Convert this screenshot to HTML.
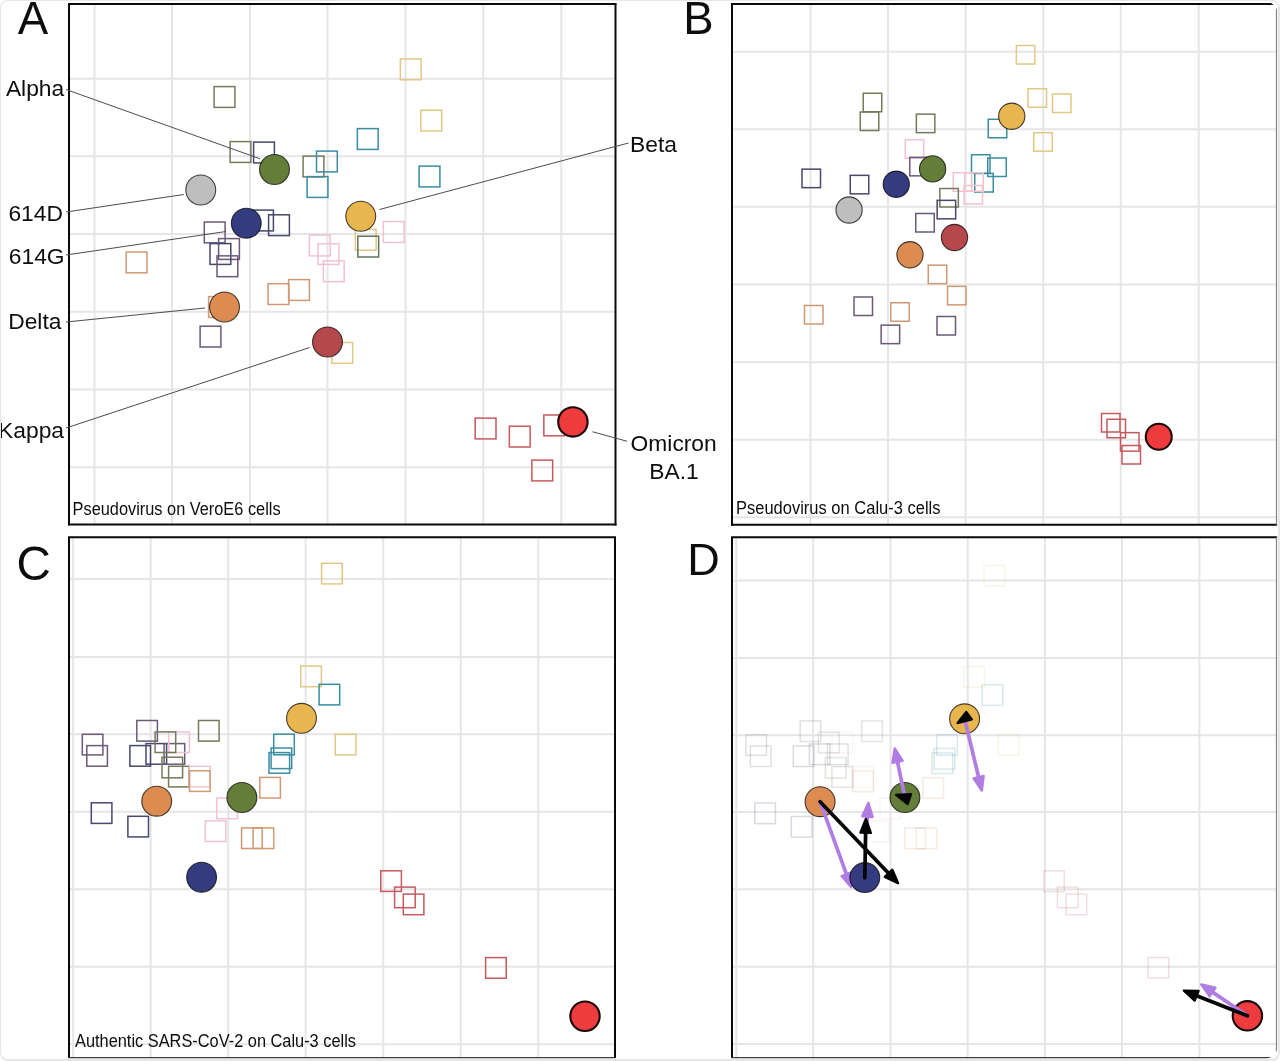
<!DOCTYPE html>
<html><head><meta charset="utf-8"><title>Antigenic maps</title>
<style>
html,body{margin:0;padding:0;background:#fff;}
body{width:1280px;height:1061px;overflow:hidden;font-family:"Liberation Sans",sans-serif;}
#fig{position:absolute;left:0;top:0;width:1280px;height:1061px;box-sizing:border-box;border:solid #e6e6e6;border-width:1px 2px 2px 1px;border-radius:8px;overflow:hidden;background:#fff;}
svg{position:absolute;left:-1px;top:-1px;}
</style></head><body>
<div id="fig">
<svg width="1280" height="1061" viewBox="0 0 1280 1061">
<defs><filter id="gs" x="0" y="0" width="1280" height="1061" filterUnits="userSpaceOnUse" color-interpolation-filters="sRGB"><feColorMatrix type="saturate" values="0"/></filter><clipPath id="cp"><rect x="1" y="1" width="1277.4" height="1058.2" rx="15" ry="15"/></clipPath></defs>
<g clip-path="url(#cp)">
<g stroke="#e6e6e8" stroke-width="2">
<line x1="94.5" y1="4" x2="94.5" y2="524.5"/>
<line x1="172" y1="4" x2="172" y2="524.5"/>
<line x1="250" y1="4" x2="250" y2="524.5"/>
<line x1="327.5" y1="4" x2="327.5" y2="524.5"/>
<line x1="405.5" y1="4" x2="405.5" y2="524.5"/>
<line x1="483.25" y1="4" x2="483.25" y2="524.5"/>
<line x1="561.25" y1="4" x2="561.25" y2="524.5"/>
<line x1="69" y1="78.75" x2="615.5" y2="78.75"/>
<line x1="69" y1="156.25" x2="615.5" y2="156.25"/>
<line x1="69" y1="234" x2="615.5" y2="234"/>
<line x1="69" y1="311.75" x2="615.5" y2="311.75"/>
<line x1="69" y1="389.4" x2="615.5" y2="389.4"/>
<line x1="69" y1="467.25" x2="615.5" y2="467.25"/>
</g>
<line x1="68" y1="4" x2="616.5" y2="4" stroke="#0a0a0a" stroke-width="2"/>
<line x1="69" y1="4" x2="69" y2="525.5" stroke="#0a0a0a" stroke-width="2"/>
<line x1="68" y1="524.5" x2="616.5" y2="524.5" stroke="#0a0a0a" stroke-width="2"/>
<line x1="615.5" y1="4" x2="615.5" y2="525.5" stroke="#0a0a0a" stroke-width="2"/>
<rect x="214.10" y="86.60" width="20.8" height="20.8" fill="none" stroke="#767a5c" stroke-width="1.5"/>
<rect x="230.10" y="141.60" width="20.8" height="20.8" fill="none" stroke="#767a5c" stroke-width="1.5"/>
<rect x="253.60" y="142.10" width="20.8" height="20.8" fill="none" stroke="#46486d" stroke-width="1.5"/>
<rect x="400.35" y="59.00" width="20.8" height="20.8" fill="none" stroke="#e2c886" stroke-width="1.5"/>
<rect x="420.85" y="110.20" width="20.8" height="20.8" fill="none" stroke="#e2c886" stroke-width="1.5"/>
<rect x="357.35" y="128.60" width="20.8" height="20.8" fill="none" stroke="#3a8da2" stroke-width="1.5"/>
<rect x="303.10" y="156.10" width="20.8" height="20.8" fill="none" stroke="#767a5c" stroke-width="1.5"/>
<rect x="316.50" y="151.10" width="20.8" height="20.8" fill="none" stroke="#3a8da2" stroke-width="1.5"/>
<rect x="307.10" y="176.60" width="20.8" height="20.8" fill="none" stroke="#3a8da2" stroke-width="1.5"/>
<rect x="419.10" y="166.10" width="20.8" height="20.8" fill="none" stroke="#3a8da2" stroke-width="1.5"/>
<rect x="383.35" y="221.60" width="20.8" height="20.8" fill="none" stroke="#f2c3cf" stroke-width="1.5"/>
<rect x="355.35" y="229.35" width="20.8" height="20.8" fill="none" stroke="#e2c886" stroke-width="1.5"/>
<rect x="357.85" y="236.20" width="20.8" height="20.8" fill="none" stroke="#5f7658" stroke-width="1.5"/>
<rect x="309.35" y="235.10" width="20.8" height="20.8" fill="none" stroke="#f2c3cf" stroke-width="1.5"/>
<rect x="318.10" y="243.70" width="20.8" height="20.8" fill="none" stroke="#f2c3cf" stroke-width="1.5"/>
<rect x="323.35" y="260.85" width="20.8" height="20.8" fill="none" stroke="#f2c3cf" stroke-width="1.5"/>
<rect x="252.60" y="210.10" width="20.8" height="20.8" fill="none" stroke="#46486d" stroke-width="1.5"/>
<rect x="268.60" y="214.80" width="20.8" height="20.8" fill="none" stroke="#46486d" stroke-width="1.5"/>
<rect x="204.30" y="222.00" width="20.8" height="20.8" fill="none" stroke="#6c597a" stroke-width="1.5"/>
<rect x="218.60" y="238.60" width="20.8" height="20.8" fill="none" stroke="#6c597a" stroke-width="1.5"/>
<rect x="210.00" y="243.60" width="20.8" height="20.8" fill="none" stroke="#46486d" stroke-width="1.5"/>
<rect x="217.00" y="255.85" width="20.8" height="20.8" fill="none" stroke="#6c597a" stroke-width="1.5"/>
<rect x="126.20" y="252.00" width="20.8" height="20.8" fill="none" stroke="#d19874" stroke-width="1.5"/>
<rect x="208.60" y="296.60" width="20.8" height="20.8" fill="none" stroke="#d19874" stroke-width="1.5"/>
<rect x="268.10" y="283.70" width="20.8" height="20.8" fill="none" stroke="#d19874" stroke-width="1.5"/>
<rect x="288.60" y="279.60" width="20.8" height="20.8" fill="none" stroke="#d19874" stroke-width="1.5"/>
<rect x="200.10" y="326.20" width="20.8" height="20.8" fill="none" stroke="#6c597a" stroke-width="1.5"/>
<rect x="331.85" y="342.50" width="20.8" height="20.8" fill="none" stroke="#e2c886" stroke-width="1.5"/>
<rect x="475.20" y="418.10" width="20.8" height="20.8" fill="none" stroke="#c6595e" stroke-width="1.5"/>
<rect x="509.35" y="426.20" width="20.8" height="20.8" fill="none" stroke="#c6595e" stroke-width="1.5"/>
<rect x="543.85" y="415.00" width="20.8" height="20.8" fill="none" stroke="#c6595e" stroke-width="1.5"/>
<rect x="531.85" y="460.10" width="20.8" height="20.8" fill="none" stroke="#c6595e" stroke-width="1.5"/>
<line x1="66" y1="89.5" x2="260" y2="158.75" stroke="#4d4d4d" stroke-width="1"/>
<line x1="66" y1="212" x2="183.75" y2="194.5" stroke="#4d4d4d" stroke-width="1"/>
<line x1="66" y1="255" x2="226" y2="231.5" stroke="#4d4d4d" stroke-width="1"/>
<line x1="66" y1="322" x2="205" y2="308" stroke="#4d4d4d" stroke-width="1"/>
<line x1="66" y1="428" x2="309.5" y2="347.5" stroke="#4d4d4d" stroke-width="1"/>
<line x1="379.5" y1="209.5" x2="628.5" y2="143" stroke="#4d4d4d" stroke-width="1"/>
<line x1="592.5" y1="431.75" x2="627" y2="441.25" stroke="#4d4d4d" stroke-width="1"/>
<circle cx="274.5" cy="169.5" r="14.95" fill="#647d38" stroke="#000" stroke-width="1.1" stroke-opacity="0.72"/>
<circle cx="200.75" cy="190" r="14.95" fill="#bebebe" stroke="#000" stroke-width="1.1" stroke-opacity="0.72"/>
<circle cx="246.25" cy="223.25" r="14.95" fill="#343b7e" stroke="#000" stroke-width="1.1" stroke-opacity="0.72"/>
<circle cx="360.75" cy="216.25" r="14.95" fill="#e8b54e" stroke="#000" stroke-width="1.1" stroke-opacity="0.72"/>
<circle cx="224.5" cy="307" r="14.95" fill="#dc8b51" stroke="#000" stroke-width="1.1" stroke-opacity="0.72"/>
<circle cx="327.5" cy="342" r="14.95" fill="#b4484b" stroke="#000" stroke-width="1.1" stroke-opacity="0.72"/>
<circle cx="572.9" cy="421.9" r="14.7" fill="#ee3b3d" stroke="#1c0608" stroke-width="2.1" stroke-opacity="1"/>
<g stroke="#e6e6e8" stroke-width="2">
<line x1="810.5" y1="4" x2="810.5" y2="524.7"/>
<line x1="888" y1="4" x2="888" y2="524.7"/>
<line x1="965.6" y1="4" x2="965.6" y2="524.7"/>
<line x1="1043.25" y1="4" x2="1043.25" y2="524.7"/>
<line x1="1120.75" y1="4" x2="1120.75" y2="524.7"/>
<line x1="1198.75" y1="4" x2="1198.75" y2="524.7"/>
<line x1="732" y1="51.75" x2="1276.5" y2="51.75"/>
<line x1="732" y1="129.25" x2="1276.5" y2="129.25"/>
<line x1="732" y1="206.75" x2="1276.5" y2="206.75"/>
<line x1="732" y1="284.5" x2="1276.5" y2="284.5"/>
<line x1="732" y1="362.25" x2="1276.5" y2="362.25"/>
<line x1="732" y1="439.75" x2="1276.5" y2="439.75"/>
<line x1="732" y1="517.25" x2="1276.5" y2="517.25"/>
</g>
<line x1="731" y1="4" x2="1277.1" y2="4" stroke="#0a0a0a" stroke-width="2"/>
<line x1="732" y1="4" x2="732" y2="525.7" stroke="#0a0a0a" stroke-width="2"/>
<line x1="731" y1="524.7" x2="1277.1" y2="524.7" stroke="#0a0a0a" stroke-width="2"/>
<line x1="1276.5" y1="4" x2="1276.5" y2="524.7" stroke="#858585" stroke-width="1.25"/>
<rect x="863.25" y="93.25" width="18.5" height="18.5" fill="none" stroke="#767a5c" stroke-width="1.5"/>
<rect x="860.25" y="112.00" width="18.5" height="18.5" fill="none" stroke="#767a5c" stroke-width="1.5"/>
<rect x="916.35" y="114.15" width="18.5" height="18.5" fill="none" stroke="#767a5c" stroke-width="1.5"/>
<rect x="905.25" y="139.75" width="18.5" height="18.5" fill="none" stroke="#f2c3cf" stroke-width="1.5"/>
<rect x="909.75" y="157.35" width="18.5" height="18.5" fill="none" stroke="#6c597a" stroke-width="1.5"/>
<rect x="802.00" y="169.15" width="18.5" height="18.5" fill="none" stroke="#46486d" stroke-width="1.5"/>
<rect x="850.25" y="175.35" width="18.5" height="18.5" fill="none" stroke="#46486d" stroke-width="1.5"/>
<rect x="1016.35" y="45.50" width="18.5" height="18.5" fill="none" stroke="#e2c886" stroke-width="1.5"/>
<rect x="1028.00" y="88.75" width="18.5" height="18.5" fill="none" stroke="#e2c886" stroke-width="1.5"/>
<rect x="1052.50" y="94.00" width="18.5" height="18.5" fill="none" stroke="#e2c886" stroke-width="1.5"/>
<rect x="1033.75" y="132.65" width="18.5" height="18.5" fill="none" stroke="#e2c886" stroke-width="1.5"/>
<rect x="988.25" y="119.25" width="18.5" height="18.5" fill="none" stroke="#3a8da2" stroke-width="1.5"/>
<rect x="971.50" y="154.75" width="18.5" height="18.5" fill="none" stroke="#3a8da2" stroke-width="1.5"/>
<rect x="987.75" y="158.00" width="18.5" height="18.5" fill="none" stroke="#3a8da2" stroke-width="1.5"/>
<rect x="974.75" y="173.50" width="18.5" height="18.5" fill="none" stroke="#3a8da2" stroke-width="1.5"/>
<rect x="953.25" y="172.75" width="18.5" height="18.5" fill="none" stroke="#f2c3cf" stroke-width="1.5"/>
<rect x="964.75" y="172.75" width="18.5" height="18.5" fill="none" stroke="#f2c3cf" stroke-width="1.5"/>
<rect x="964.00" y="185.50" width="18.5" height="18.5" fill="none" stroke="#f2c3cf" stroke-width="1.5"/>
<rect x="939.85" y="188.50" width="18.5" height="18.5" fill="none" stroke="#767a5c" stroke-width="1.5"/>
<rect x="937.15" y="200.35" width="18.5" height="18.5" fill="none" stroke="#46486d" stroke-width="1.5"/>
<rect x="915.75" y="213.50" width="18.5" height="18.5" fill="none" stroke="#6c597a" stroke-width="1.5"/>
<rect x="928.25" y="265.15" width="18.5" height="18.5" fill="none" stroke="#d19874" stroke-width="1.5"/>
<rect x="947.50" y="286.35" width="18.5" height="18.5" fill="none" stroke="#d19874" stroke-width="1.5"/>
<rect x="890.75" y="302.75" width="18.5" height="18.5" fill="none" stroke="#d19874" stroke-width="1.5"/>
<rect x="804.50" y="305.50" width="18.5" height="18.5" fill="none" stroke="#d19874" stroke-width="1.5"/>
<rect x="854.00" y="297.00" width="18.5" height="18.5" fill="none" stroke="#6c597a" stroke-width="1.5"/>
<rect x="881.15" y="325.15" width="18.5" height="18.5" fill="none" stroke="#6c597a" stroke-width="1.5"/>
<rect x="937.00" y="316.50" width="18.5" height="18.5" fill="none" stroke="#6c597a" stroke-width="1.5"/>
<rect x="1101.50" y="413.50" width="18.5" height="18.5" fill="none" stroke="#c6595e" stroke-width="1.5"/>
<rect x="1107.00" y="419.25" width="18.5" height="18.5" fill="none" stroke="#c6595e" stroke-width="1.5"/>
<rect x="1120.50" y="432.65" width="18.5" height="18.5" fill="none" stroke="#c6595e" stroke-width="1.5"/>
<rect x="1122.00" y="445.50" width="18.5" height="18.5" fill="none" stroke="#c6595e" stroke-width="1.5"/>
<circle cx="849.1" cy="210" r="13.15" fill="#bebebe" stroke="#000" stroke-width="1.1" stroke-opacity="0.72"/>
<circle cx="896.25" cy="184.25" r="13.15" fill="#343b7e" stroke="#000" stroke-width="1.1" stroke-opacity="0.72"/>
<circle cx="932.6" cy="168.9" r="13.15" fill="#647d38" stroke="#000" stroke-width="1.1" stroke-opacity="0.72"/>
<circle cx="1011.75" cy="116.25" r="13.15" fill="#e8b54e" stroke="#000" stroke-width="1.1" stroke-opacity="0.72"/>
<circle cx="910" cy="254.75" r="13.15" fill="#dc8b51" stroke="#000" stroke-width="1.1" stroke-opacity="0.72"/>
<circle cx="954.5" cy="237.5" r="13.15" fill="#b4484b" stroke="#000" stroke-width="1.1" stroke-opacity="0.72"/>
<circle cx="1158.75" cy="436.75" r="13" fill="#ee3b3d" stroke="#1c0608" stroke-width="2" stroke-opacity="1"/>
<g stroke="#e6e6e8" stroke-width="2">
<line x1="73.1" y1="537.2" x2="73.1" y2="1057.5"/>
<line x1="150.7" y1="537.2" x2="150.7" y2="1057.5"/>
<line x1="228.2" y1="537.2" x2="228.2" y2="1057.5"/>
<line x1="305.6" y1="537.2" x2="305.6" y2="1057.5"/>
<line x1="383.25" y1="537.2" x2="383.25" y2="1057.5"/>
<line x1="460.75" y1="537.2" x2="460.75" y2="1057.5"/>
<line x1="538.25" y1="537.2" x2="538.25" y2="1057.5"/>
<line x1="69" y1="579.1" x2="615" y2="579.1"/>
<line x1="69" y1="656.9" x2="615" y2="656.9"/>
<line x1="69" y1="734.3" x2="615" y2="734.3"/>
<line x1="69" y1="811.8" x2="615" y2="811.8"/>
<line x1="69" y1="889.2" x2="615" y2="889.2"/>
<line x1="69" y1="966.75" x2="615" y2="966.75"/>
<line x1="69" y1="1044.25" x2="615" y2="1044.25"/>
</g>
<line x1="68" y1="537.2" x2="616" y2="537.2" stroke="#0a0a0a" stroke-width="2"/>
<line x1="69" y1="537.2" x2="69" y2="1058.1" stroke="#0a0a0a" stroke-width="2"/>
<line x1="68" y1="1057.5" x2="615.6" y2="1057.5" stroke="#3c3c3c" stroke-width="1.25"/>
<line x1="615" y1="537.2" x2="615" y2="1058.1" stroke="#0a0a0a" stroke-width="2"/>
<rect x="321.60" y="563.30" width="20.6" height="20.6" fill="none" stroke="#e2c886" stroke-width="1.5"/>
<rect x="300.80" y="666.10" width="20.6" height="20.6" fill="none" stroke="#e2c886" stroke-width="1.5"/>
<rect x="319.10" y="684.30" width="20.6" height="20.6" fill="none" stroke="#3a8da2" stroke-width="1.5"/>
<rect x="335.30" y="734.30" width="20.6" height="20.6" fill="none" stroke="#e2c886" stroke-width="1.5"/>
<rect x="273.70" y="734.20" width="20.6" height="20.6" fill="none" stroke="#3a8da2" stroke-width="1.5"/>
<rect x="271.10" y="748.00" width="20.6" height="20.6" fill="none" stroke="#3a8da2" stroke-width="1.5"/>
<rect x="269.00" y="752.60" width="20.6" height="20.6" fill="none" stroke="#3a8da2" stroke-width="1.5"/>
<rect x="198.50" y="720.50" width="20.6" height="20.6" fill="none" stroke="#767a5c" stroke-width="1.5"/>
<rect x="82.30" y="734.30" width="20.6" height="20.6" fill="none" stroke="#6c597a" stroke-width="1.5"/>
<rect x="86.80" y="745.60" width="20.6" height="20.6" fill="none" stroke="#6c597a" stroke-width="1.5"/>
<rect x="136.80" y="720.50" width="20.6" height="20.6" fill="none" stroke="#6c597a" stroke-width="1.5"/>
<rect x="129.90" y="745.60" width="20.6" height="20.6" fill="none" stroke="#46486d" stroke-width="1.5"/>
<rect x="146.00" y="743.60" width="20.6" height="20.6" fill="none" stroke="#46486d" stroke-width="1.5"/>
<rect x="164.10" y="743.60" width="20.6" height="20.6" fill="none" stroke="#6c597a" stroke-width="1.5"/>
<rect x="168.80" y="731.90" width="20.6" height="20.6" fill="none" stroke="#f2c3cf" stroke-width="1.5"/>
<rect x="155.10" y="731.90" width="20.6" height="20.6" fill="none" stroke="#767a5c" stroke-width="1.5"/>
<rect x="162.00" y="757.20" width="20.6" height="20.6" fill="none" stroke="#767a5c" stroke-width="1.5"/>
<rect x="168.60" y="766.30" width="20.6" height="20.6" fill="none" stroke="#767a5c" stroke-width="1.5"/>
<rect x="189.50" y="766.30" width="20.6" height="20.6" fill="none" stroke="#f2c3cf" stroke-width="1.5"/>
<rect x="189.50" y="770.80" width="20.6" height="20.6" fill="none" stroke="#d19874" stroke-width="1.5"/>
<rect x="259.80" y="777.40" width="20.6" height="20.6" fill="none" stroke="#d19874" stroke-width="1.5"/>
<rect x="91.30" y="802.80" width="20.6" height="20.6" fill="none" stroke="#46486d" stroke-width="1.5"/>
<rect x="127.90" y="816.30" width="20.6" height="20.6" fill="none" stroke="#46486d" stroke-width="1.5"/>
<rect x="216.80" y="798.10" width="20.6" height="20.6" fill="none" stroke="#f2c3cf" stroke-width="1.5"/>
<rect x="205.30" y="820.90" width="20.6" height="20.6" fill="none" stroke="#f2c3cf" stroke-width="1.5"/>
<rect x="241.60" y="827.90" width="20.6" height="20.6" fill="none" stroke="#d19874" stroke-width="1.5"/>
<rect x="253.10" y="827.90" width="20.6" height="20.6" fill="none" stroke="#d19874" stroke-width="1.5"/>
<rect x="380.80" y="870.80" width="20.6" height="20.6" fill="none" stroke="#c6595e" stroke-width="1.5"/>
<rect x="394.60" y="887.10" width="20.6" height="20.6" fill="none" stroke="#c6595e" stroke-width="1.5"/>
<rect x="403.30" y="894.10" width="20.6" height="20.6" fill="none" stroke="#c6595e" stroke-width="1.5"/>
<rect x="485.60" y="957.60" width="20.6" height="20.6" fill="none" stroke="#c6595e" stroke-width="1.5"/>
<circle cx="301.5" cy="718.3" r="14.95" fill="#e8b54e" stroke="#000" stroke-width="1.1" stroke-opacity="0.72"/>
<circle cx="156.7" cy="801.2" r="14.95" fill="#dc8b51" stroke="#000" stroke-width="1.1" stroke-opacity="0.72"/>
<circle cx="241.9" cy="797.5" r="14.95" fill="#647d38" stroke="#000" stroke-width="1.1" stroke-opacity="0.72"/>
<circle cx="201.6" cy="877.2" r="14.95" fill="#343b7e" stroke="#000" stroke-width="1.1" stroke-opacity="0.72"/>
<circle cx="585" cy="1016.25" r="14.7" fill="#ee3b3d" stroke="#1c0608" stroke-width="2.1" stroke-opacity="1"/>
<g stroke="#e6e6e8" stroke-width="2">
<line x1="736.25" y1="537.2" x2="736.25" y2="1057.5"/>
<line x1="813.2" y1="537.2" x2="813.2" y2="1057.5"/>
<line x1="890.6" y1="537.2" x2="890.6" y2="1057.5"/>
<line x1="967.7" y1="537.2" x2="967.7" y2="1057.5"/>
<line x1="1045" y1="537.2" x2="1045" y2="1057.5"/>
<line x1="1122" y1="537.2" x2="1122" y2="1057.5"/>
<line x1="1199.4" y1="537.2" x2="1199.4" y2="1057.5"/>
<line x1="732" y1="580.5" x2="1276.5" y2="580.5"/>
<line x1="732" y1="658" x2="1276.5" y2="658"/>
<line x1="732" y1="735.2" x2="1276.5" y2="735.2"/>
<line x1="732" y1="811.9" x2="1276.5" y2="811.9"/>
<line x1="732" y1="889.2" x2="1276.5" y2="889.2"/>
<line x1="732" y1="966.8" x2="1276.5" y2="966.8"/>
<line x1="732" y1="1044" x2="1276.5" y2="1044"/>
</g>
<line x1="731" y1="537.2" x2="1277.1" y2="537.2" stroke="#0a0a0a" stroke-width="2"/>
<line x1="732" y1="537.2" x2="732" y2="1058.1" stroke="#0a0a0a" stroke-width="2"/>
<line x1="731" y1="1057.5" x2="1277.1" y2="1057.5" stroke="#3c3c3c" stroke-width="1.25"/>
<line x1="1276.5" y1="537.2" x2="1276.5" y2="1057.5" stroke="#858585" stroke-width="1.25"/>
<rect x="984.00" y="565.38" width="20.6" height="20.6" fill="none" stroke="#e2c886" stroke-width="1.5" opacity="0.2"/>
<rect x="963.84" y="666.64" width="20.6" height="20.6" fill="none" stroke="#e2c886" stroke-width="1.5" opacity="0.2"/>
<rect x="982.10" y="684.80" width="20.6" height="20.6" fill="none" stroke="#3a8da2" stroke-width="1.5" opacity="0.2"/>
<rect x="998.27" y="734.69" width="20.6" height="20.6" fill="none" stroke="#e2c886" stroke-width="1.5" opacity="0.2"/>
<rect x="936.81" y="734.59" width="20.6" height="20.6" fill="none" stroke="#3a8da2" stroke-width="1.5" opacity="0.2"/>
<rect x="934.21" y="748.36" width="20.6" height="20.6" fill="none" stroke="#3a8da2" stroke-width="1.5" opacity="0.2"/>
<rect x="932.12" y="752.95" width="20.6" height="20.6" fill="none" stroke="#3a8da2" stroke-width="1.5" opacity="0.2"/>
<rect x="861.78" y="720.92" width="20.6" height="20.6" fill="none" stroke="#767a5c" stroke-width="1.5" opacity="0.2"/>
<rect x="745.85" y="734.69" width="20.6" height="20.6" fill="none" stroke="#6c597a" stroke-width="1.5" opacity="0.2"/>
<rect x="750.34" y="745.96" width="20.6" height="20.6" fill="none" stroke="#6c597a" stroke-width="1.5" opacity="0.2"/>
<rect x="800.22" y="720.92" width="20.6" height="20.6" fill="none" stroke="#6c597a" stroke-width="1.5" opacity="0.2"/>
<rect x="793.34" y="745.96" width="20.6" height="20.6" fill="none" stroke="#46486d" stroke-width="1.5" opacity="0.2"/>
<rect x="809.40" y="743.97" width="20.6" height="20.6" fill="none" stroke="#46486d" stroke-width="1.5" opacity="0.2"/>
<rect x="827.46" y="743.97" width="20.6" height="20.6" fill="none" stroke="#6c597a" stroke-width="1.5" opacity="0.2"/>
<rect x="832.15" y="732.29" width="20.6" height="20.6" fill="none" stroke="#f2c3cf" stroke-width="1.5" opacity="0.2"/>
<rect x="818.48" y="732.29" width="20.6" height="20.6" fill="none" stroke="#767a5c" stroke-width="1.5" opacity="0.2"/>
<rect x="825.36" y="757.53" width="20.6" height="20.6" fill="none" stroke="#767a5c" stroke-width="1.5" opacity="0.2"/>
<rect x="831.95" y="766.61" width="20.6" height="20.6" fill="none" stroke="#767a5c" stroke-width="1.5" opacity="0.2"/>
<rect x="852.80" y="766.61" width="20.6" height="20.6" fill="none" stroke="#f2c3cf" stroke-width="1.5" opacity="0.2"/>
<rect x="852.80" y="771.10" width="20.6" height="20.6" fill="none" stroke="#d19874" stroke-width="1.5" opacity="0.2"/>
<rect x="922.94" y="777.69" width="20.6" height="20.6" fill="none" stroke="#d19874" stroke-width="1.5" opacity="0.2"/>
<rect x="754.83" y="803.03" width="20.6" height="20.6" fill="none" stroke="#46486d" stroke-width="1.5" opacity="0.2"/>
<rect x="791.34" y="816.50" width="20.6" height="20.6" fill="none" stroke="#46486d" stroke-width="1.5" opacity="0.2"/>
<rect x="880.04" y="798.34" width="20.6" height="20.6" fill="none" stroke="#f2c3cf" stroke-width="1.5" opacity="0.2"/>
<rect x="868.56" y="821.09" width="20.6" height="20.6" fill="none" stroke="#f2c3cf" stroke-width="1.5" opacity="0.2"/>
<rect x="904.78" y="828.07" width="20.6" height="20.6" fill="none" stroke="#d19874" stroke-width="1.5" opacity="0.2"/>
<rect x="916.25" y="828.07" width="20.6" height="20.6" fill="none" stroke="#d19874" stroke-width="1.5" opacity="0.2"/>
<rect x="1043.66" y="870.87" width="20.6" height="20.6" fill="none" stroke="#c6595e" stroke-width="1.5" opacity="0.2"/>
<rect x="1057.43" y="887.14" width="20.6" height="20.6" fill="none" stroke="#c6595e" stroke-width="1.5" opacity="0.2"/>
<rect x="1066.11" y="894.12" width="20.6" height="20.6" fill="none" stroke="#c6595e" stroke-width="1.5" opacity="0.2"/>
<rect x="1148.22" y="957.47" width="20.6" height="20.6" fill="none" stroke="#c6595e" stroke-width="1.5" opacity="0.2"/>
<circle cx="964.6" cy="718.8" r="14.95" fill="#e8b54e" stroke="#000" stroke-width="1.1" stroke-opacity="0.72"/>
<circle cx="820.1" cy="801.7" r="14.95" fill="#dc8b51" stroke="#000" stroke-width="1.1" stroke-opacity="0.72"/>
<circle cx="904.9" cy="797.5" r="14.95" fill="#647d38" stroke="#000" stroke-width="1.1" stroke-opacity="0.72"/>
<circle cx="1247.4" cy="1015.8" r="14.7" fill="#ee3b3d" stroke="#1c0608" stroke-width="2.1" stroke-opacity="1"/>
<line x1="964.60" y1="718.80" x2="978.93" y2="778.48" stroke="#b07de2" stroke-width="3.7" stroke-linecap="round"/>
<polygon points="981.82,790.53 973.55,778.40 983.68,775.97" fill="#b07de2" stroke="#b07de2" stroke-width="2.4" stroke-linejoin="round"/>
<line x1="904.90" y1="797.50" x2="897.25" y2="760.52" stroke="#b07de2" stroke-width="3.7" stroke-linecap="round"/>
<polygon points="894.74,748.38 902.62,760.76 892.42,762.87" fill="#b07de2" stroke="#b07de2" stroke-width="2.4" stroke-linejoin="round"/>
<line x1="820.10" y1="801.70" x2="846.95" y2="875.52" stroke="#b07de2" stroke-width="3.7" stroke-linecap="round"/>
<polygon points="851.19,887.17 841.60,876.05 851.39,872.49" fill="#b07de2" stroke="#b07de2" stroke-width="2.4" stroke-linejoin="round"/>
<line x1="866.30" y1="832.00" x2="867.52" y2="815.26" stroke="#b07de2" stroke-width="3.7" stroke-linecap="round"/>
<polygon points="868.41,802.90 872.61,816.96 862.23,816.21" fill="#b07de2" stroke="#b07de2" stroke-width="2.4" stroke-linejoin="round"/>
<line x1="1247.40" y1="1015.80" x2="1211.45" y2="991.35" stroke="#b07de2" stroke-width="3.7" stroke-linecap="round"/>
<polygon points="1201.19,984.37 1215.47,987.79 1209.61,996.40" fill="#b07de2" stroke="#b07de2" stroke-width="2.4" stroke-linejoin="round"/>
<circle cx="864.8" cy="877.6" r="14.95" fill="#343b7e" stroke="#000" stroke-width="1.1" stroke-opacity="0.72"/>
<line x1="820.10" y1="801.70" x2="889.50" y2="874.27" stroke="#050505" stroke-width="3.7" stroke-linecap="round"/>
<polygon points="898.07,883.23 884.82,876.91 892.35,869.71" fill="#050505" stroke="#050505" stroke-width="2.4" stroke-linejoin="round"/>
<line x1="864.80" y1="877.80" x2="865.65" y2="831.40" stroke="#050505" stroke-width="3.7" stroke-linecap="round"/>
<polygon points="865.88,819.00 870.83,832.82 860.42,832.63" fill="#050505" stroke="#050505" stroke-width="2.4" stroke-linejoin="round"/>
<line x1="1247.40" y1="1015.80" x2="1195.39" y2="995.21" stroke="#050505" stroke-width="3.7" stroke-linecap="round"/>
<polygon points="1183.87,990.64 1198.54,990.85 1194.71,1000.54" fill="#050505" stroke="#050505" stroke-width="2.4" stroke-linejoin="round"/>
<polygon points="957.70,723.04 966.20,712.00 971.77,719.39" fill="#050505" stroke="#050505" stroke-width="2.4" stroke-linejoin="round"/>
<polygon points="896.04,794.87 911.04,794.22 907.67,803.95" fill="#050505" stroke="#050505" stroke-width="2.4" stroke-linejoin="round"/>
<g fill="#0d0d0d" font-family="'Liberation Sans', sans-serif" filter="url(#gs)">
<text x="17.8" y="34.2" font-size="45.6" text-anchor="start" >A</text>
<text x="683.3" y="34" font-size="45.5" text-anchor="start" >B</text>
<text x="16.6" y="579.8" font-size="47.5" text-anchor="start" >C</text>
<text x="687.2" y="575.2" font-size="45" text-anchor="start" >D</text>
<text x="64.2" y="95.75" font-size="22.8" text-anchor="end" >Alpha</text>
<text x="62.9" y="220.5" font-size="22.8" text-anchor="end" >614D</text>
<text x="64.6" y="263.75" font-size="22.8" text-anchor="end" >614G</text>
<text x="61.4" y="328.75" font-size="22.8" text-anchor="end" >Delta</text>
<text x="64" y="437.5" font-size="22.8" text-anchor="end" >Kappa</text>
<text x="630" y="151.75" font-size="22.8" text-anchor="start" >Beta</text>
<text x="630.6" y="451.25" font-size="22.8" text-anchor="start" >Omicron</text>
<text x="649.3" y="478.75" font-size="22.8" text-anchor="start" >BA.1</text>
<text x="72.6" y="514.5" font-size="17.5" text-anchor="start" textLength="208" lengthAdjust="spacingAndGlyphs">Pseudovirus on VeroE6 cells</text>
<text x="736" y="513.75" font-size="17.5" text-anchor="start" textLength="204.5" lengthAdjust="spacingAndGlyphs">Pseudovirus on Calu-3 cells</text>
<text x="75" y="1047" font-size="17.5" text-anchor="start" textLength="281" lengthAdjust="spacingAndGlyphs">Authentic SARS-CoV-2 on Calu-3 cells</text>
</g>
</g>
</svg>
</div>
</body></html>
